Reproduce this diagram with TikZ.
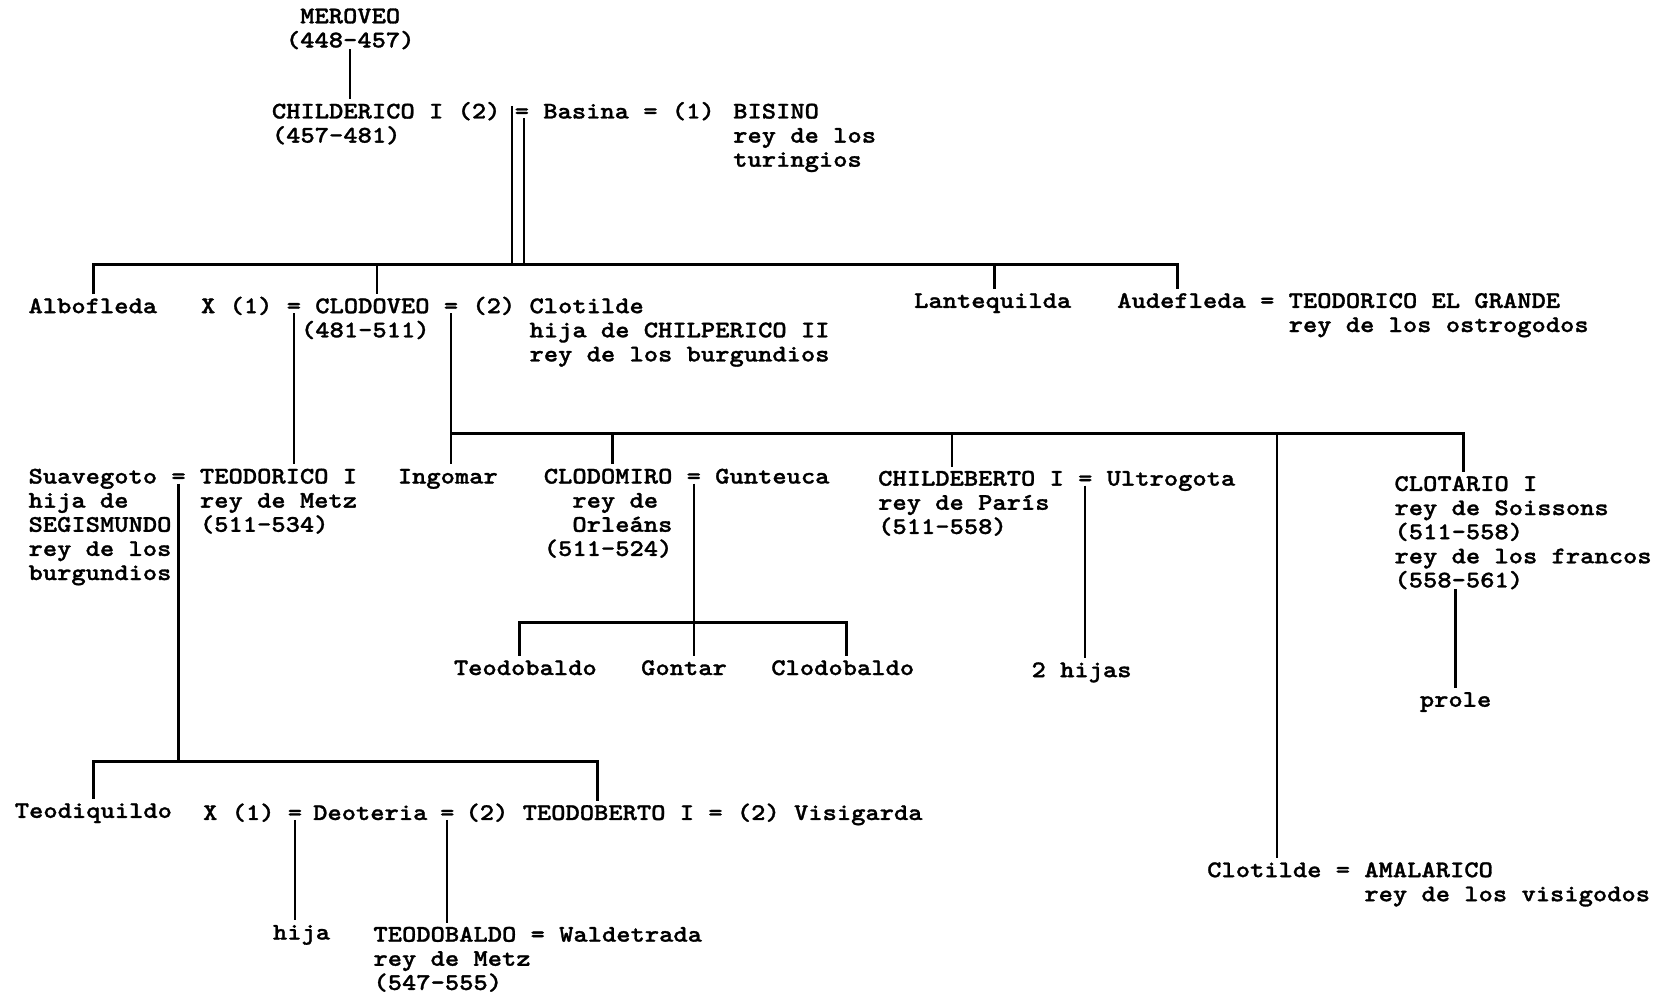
\documentclass[tikz,border=0pt]{standalone}
\usepackage{fontspec}
% typewriter face, widened to Courier proportions
\newfontfamily\gfont{lmmonolt10-bold.otf}[FakeStretch=1.143,FakeBold=1.2,WordSpace={1,0,0}]
\newcommand\fl{\rule{0pt}{9pt}}
\tikzset{
  pers/.style={anchor=north west, inner sep=0pt, outer sep=0pt, align=left,
    font=\gfont\fontsize{11.25}{11.4}\selectfont},
  link/.style={line width=1.1pt},
  bar/.style={line width=1.4pt},
}
\begin{document}
\begin{tikzpicture}[x=0.5pt,y=-0.5pt]
\useasboundingbox (0,0) rectangle (1568,940);

% generation 1-2
\node[pers,align=center,anchor=north] (merov) at (331,4) {\fl MEROVEO\\(448-457)};
\node[pers] (chil) at (257,94) {\fl CHILDERICO I (2)\\(457-481)};
\node[pers] (basina) at (486.5,94) {\fl= Basina = (1)};
\node[pers] (bisino) at (693,94) {\fl BISINO\\rey de los\\turingios};

% generation 3
\node[pers] (albo) at (27,278) {\fl Albofleda};
\node[pers] (xa) at (190,278) {\fl X (1)};
\node[pers] (eqA) at (271,278) {\fl=};
\node[pers] (clodoveo) at (284.5,278) {\fl~CLODOVEO\\(481-511)};
\node[pers] (eqB) at (419.5,278) {\fl=};
\node[pers] (clotilde) at (446.5,278) {\fl(2) Clotilde\\~~~~hija de CHILPERICO II\\~~~~rey de los burgundios};
\node[pers] (lante) at (864,273) {\fl Lantequilda};
\node[pers] (aude) at (1056,273) {\fl Audefleda = TEODORICO EL GRANDE\\~~~~~~~~~~~~rey de los ostrogodos};

% generation 4
\node[pers] (suave) at (27,439) {\fl Suavegoto\\hija de\\SEGISMUNDO\\rey de los\\burgundios};
\node[pers] (eqC) at (162,439) {\fl=};
\node[pers] (teod) at (189,439) {\fl TEODORICO I\\rey de Metz\\(511-534)};
\node[pers] (ingomar) at (376,439) {\fl Ingomar};
\node[pers] (clodomiro) at (514,439) {\fl CLODOMIRO\\~~rey de\\~~Orleáns\\(511-524)};
\node[pers] (eqD) at (649,439) {\fl=};
\node[pers] (gunteuca) at (676,439) {\fl Gunteuca};
\node[pers] (childeb) at (830,441) {\fl CHILDEBERTO I\\rey de París\\(511-558)};
\node[pers] (eqE) at (1019,441) {\fl=};
\node[pers] (ultro) at (1046,441) {\fl Ultrogota};
\node[pers] (clotario) at (1318,446) {\fl CLOTARIO I\\rey de Soissons\\(511-558)\\rey de los francos\\(558-561)};

% generation 5
\node[pers] (teodobaldoA) at (429,620) {\fl Teodobaldo};
\node[pers] (gontar) at (606,620) {\fl Gontar};
\node[pers] (clodobaldo) at (729,620) {\fl Clodobaldo};
\node[pers] (hijas) at (975,622) {\fl 2 hijas};
\node[pers] (prole) at (1342,650) {\fl prole};

\node[pers] (teodiq) at (14,755) {\fl Teodiquildo};
\node[pers] (xb) at (192,757) {\fl X (1)};
\node[pers] (eqF) at (272,757) {\fl=};
\node[pers] (deoteria) at (296,757) {\fl Deoteria};
\node[pers] (eqG) at (416,757) {\fl=};
\node[pers] (teodob) at (440,757) {\fl(2) TEODOBERTO I};
\node[pers] (visig) at (669.5,757) {\fl= (2) Visigarda};
\node[pers] (clotildeB) at (1141,811) {\fl Clotilde = AMALARICO\\~~~~~~~~~~~rey de los visigodos};

% generation 6
\node[pers] (hija) at (258,870) {\fl hija};
\node[pers] (teodobaldoB) at (353,872) {\fl TEODOBALDO = Waldetrada\\rey de Metz\\(547-555)};

% sibling bars and their drop points
\coordinate (sA) at (484,100);
\coordinate (sB) at (495,112);
\coordinate (b1L) at (88,250);
\coordinate (b1R) at (1113,250);
\coordinate (b1C) at (356,250);
\coordinate (b1D) at (940,250);
\coordinate (b2) at (0,410);
\coordinate (b2R) at (1383,410);
\coordinate (b2a) at (579,410);
\coordinate (b2b) at (900,410);
\coordinate (b2c) at (1207,410);
\coordinate (b3L) at (491,588);
\coordinate (b3R) at (800,588);
\coordinate (b4L) at (88,720);
\coordinate (b4R) at (565,720);

\draw[link] (merov.south) -- (merov.south |- chil.north);
\draw[link] (sA) -- (sA |- b1L);
\draw[link] (sB) -- (sB |- b1L);
\draw[bar] (b1L |- albo.north) -- (b1L) -- (b1R) -- (b1R |- aude.north);
\draw[link] (b1C) -- (b1C |- clodoveo.north);
\draw[link] (b1D) -- (b1D |- lante.north);

\draw[link] (eqA.south) -- (eqA.south |- teod.north);
\draw[link] (eqB.south) -- (eqB.south |- ingomar.north);
\draw[bar] (eqB.south |- b2) -- (b2R) -- (b2R |- clotario.north);
\draw[link] (b2a) -- (b2a |- clodomiro.north);
\draw[link] (b2b) -- (b2b |- childeb.north);
\draw[link] (b2c) -- (b2c |- clotildeB.north);

\draw[link] (eqC.south) -- (eqC.south |- b4L);
\draw[bar] (b4L |- teodiq.north) -- (b4L) -- (b4R) -- (b4R |- teodob.north);
\draw[link] (eqD.south) -- (eqD.south |- gontar.north);
\draw[bar] (b3L |- teodobaldoA.north) -- (b3L) -- (b3R) -- (b3R |- clodobaldo.north);
\draw[link] (eqE.south) -- (eqE.south |- hijas.north);
\draw[link] (prole.north |- clotario.south) -- (prole.north);
\draw[link] (eqF.south) -- (eqF.south |- hija.north);
\draw[link] (eqG.south) -- (eqG.south |- teodobaldoB.north);
\end{tikzpicture}
\end{document}
